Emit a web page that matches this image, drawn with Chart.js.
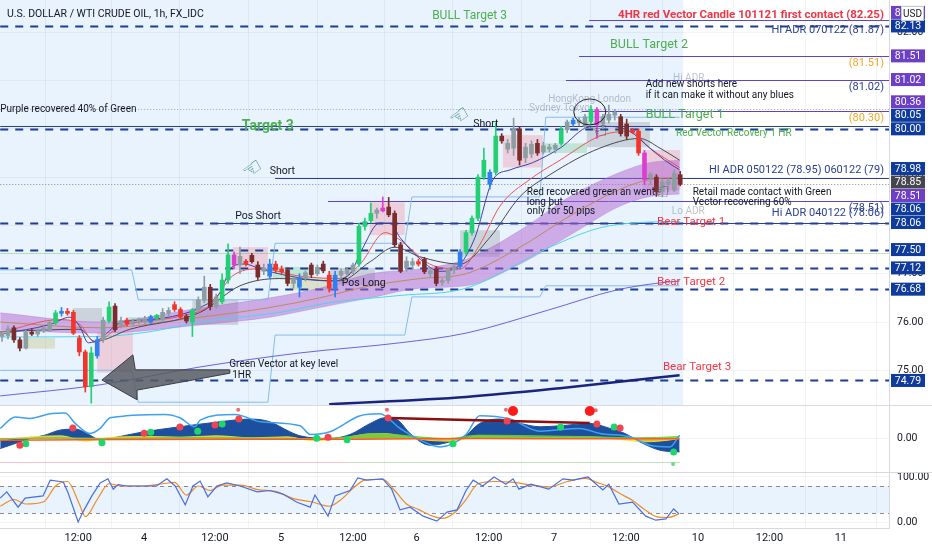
<!DOCTYPE html>
<html>
<head>
<meta charset="utf-8">
<script src="https://cdn.jsdelivr.net/npm/chart.js@4.4.1/dist/chart.umd.min.js"></script>
<style>
  html, body { margin: 0; padding: 0; background: #fff; }
</style>
</head>
<body>
<canvas id="oilChart" width="932" height="550"></canvas>
<script>
// hourly candles, bar 0 = first bar on the left (Jan 3)
const opens = [75.70,75.72,75.88,75.63,75.46,75.79,75.75,75.82,75.84,75.98,
  76.18,76.22,76.20,75.67,75.38,74.66,75.30,75.63,76.02,76.33,
  75.92,76.04,75.96,76.02,76.00,76.00,76.08,76.05,76.18,76.36,
  76.26,76.12,76.00,76.25,76.45,76.72,76.32,76.42,76.87,77.39,
  77.18,77.26,77.38,77.18,77.05,76.95,77.20,77.10,77.08,76.80,
  76.72,76.90,77.18,77.00,77.20,76.97,76.70,76.97,77.00,77.05,
  77.20,77.98,78.10,78.25,78.36,78.38,78.25,77.60,77.12,77.18,
  77.25,77.30,77.00,77.10,76.82,76.86,77.08,77.15,77.45,77.85,
  78.15,79.00,78.85,79.10,79.85,79.58,79.60,80.00,79.40,79.48,
  79.70,79.52,79.58,79.58,79.70,79.98,80.10,80.12,80.05,80.15,
  80.40,80.10,80.18,80.28,80.25,80.10,79.98,79.95,79.50,78.98,
  79.00,78.70,78.85,78.73,79.05];
const highs = [75.80,75.92,75.92,75.68,75.83,75.86,75.86,75.92,76.02,76.24,
  76.30,76.28,76.24,75.72,75.42,75.48,75.70,76.10,76.42,76.38,
  76.10,76.08,76.06,76.08,76.12,76.14,76.16,76.28,76.30,76.42,
  76.30,76.16,76.28,76.52,76.95,76.78,76.58,77.00,77.62,77.45,
  77.55,77.30,77.42,77.25,77.20,77.30,77.26,77.16,77.12,76.92,
  77.00,77.06,77.22,77.18,77.26,77.05,77.05,77.10,77.12,77.22,
  78.05,78.15,78.46,78.36,78.59,78.58,78.30,77.65,77.35,77.32,
  77.30,77.34,77.12,77.15,76.90,77.12,77.20,77.50,77.90,78.20,
  79.05,79.60,79.15,80.12,79.90,79.78,80.22,80.05,79.70,79.75,
  79.78,79.72,79.68,79.70,80.05,80.18,80.22,80.24,80.30,80.48,
  80.44,80.30,80.49,80.40,80.30,80.20,80.00,80.00,79.55,79.10,
  79.05,78.95,78.98,79.15,79.12];
const lows = [75.60,75.65,75.58,75.40,75.44,75.72,75.70,75.78,75.80,75.95,
  76.12,76.14,75.74,75.30,74.55,74.32,75.25,75.58,75.98,75.80,
  75.88,75.92,75.92,75.96,75.96,75.97,76.04,76.00,76.12,76.22,
  76.06,75.98,75.70,76.20,76.40,76.25,76.28,76.38,76.80,77.10,
  77.00,77.16,77.22,76.88,76.98,76.90,77.02,77.00,76.75,76.70,
  76.52,76.85,76.92,76.96,77.02,76.62,76.52,76.90,76.96,77.00,
  77.15,77.90,78.05,78.15,78.28,78.18,77.55,77.02,77.05,77.10,
  77.16,77.00,76.92,76.75,76.76,76.80,77.00,77.10,77.40,77.80,
  78.10,78.95,78.75,79.05,79.70,79.50,79.45,79.25,79.30,79.40,
  79.45,79.48,79.52,79.50,79.66,79.92,80.05,80.06,80.00,80.10,
  79.80,80.00,80.12,80.18,79.85,79.78,79.90,79.45,78.85,78.85,
  78.60,78.60,78.70,78.70,78.82];
const closes = [75.77,75.86,75.63,75.46,75.79,75.75,75.82,75.88,75.99,76.19,
  76.22,76.18,75.77,75.38,74.66,75.36,75.63,76.04,76.31,75.84,
  76.03,75.96,76.02,76.05,76.06,76.11,76.14,76.20,76.24,76.26,
  76.10,76.02,76.25,76.46,76.72,76.32,76.52,76.87,77.39,77.18,
  77.36,77.20,77.25,76.93,77.12,77.20,77.08,77.04,76.80,76.87,
  76.92,77.02,76.98,77.12,77.06,76.70,76.97,77.05,77.08,77.18,
  77.98,78.08,78.25,78.32,78.30,78.22,77.60,77.05,77.26,77.25,
  77.20,77.04,77.06,76.80,76.86,77.08,77.15,77.45,77.85,78.15,
  79.00,79.35,79.10,79.85,79.75,79.70,80.00,79.35,79.62,79.68,
  79.50,79.65,79.62,79.66,79.98,80.14,80.18,80.18,80.25,80.40,
  80.08,80.25,80.30,80.34,79.90,79.85,79.93,79.50,78.95,79.06,
  78.70,78.90,78.92,79.08,78.85];
// volume class of each candle: 0 normal, 1 above average, 2 climax (vector)
const vectorClass = [0,0,0,0,0,0,0,0,0,2, 1,2,2,2,2,2,1,0,2,0, 0,2,0,0,0,1,2,0,0,2,
  2,0,2,0,0,0,0,2,2,1, 0,2,0,0,0,1,2,2,0,0, 1,0,0,0,0,2,1,0,0,0,
  2,2,2,0,1,0,0,0,0,0, 2,0,0,0,0,0,0,1,2,2, 2,2,1,2,0,0,0,0,0,0,
  0,0,0,0,2,0,1,0,0,2, 1,0,0,0,0,0,2,2,1,0, 0,0,0,0,0];

// time axis
const tickPos = [12.8, 23.9, 35.8, 46.9, 59, 69.7, 81.8, 92.8, 104.9, 117, 129, 141];
const tickText = ['12:00','4','12:00','5','12:00','6','12:00','7','12:00','10','12:00','11'];
const priceTicks = [75, 76, 77, 78, 79, 80, 81, 82];

// moving averages as [bar, price]
const emaFast = [[-0.3,75.75],[8.1,75.95],[11.4,76.1],[13.1,75.9],[14.5,75.57],[16.5,75.65],[19.8,75.98],[24.9,76.05],[29.9,76.15],[33.3,76.3],[36.6,76.6],[38.7,77.15],[40.8,77.2],[43.4,77.1],[48.4,76.95],[55.1,76.85],[58.5,77.0],[60.5,77.5],[63.5,78.05],[65.2,78.05],[66.9,77.75],[70.3,77.3],[73.6,77.05],[77,77.2],[79.5,77.75],[82.5,78.94],[85.4,79.15],[89.2,79.3],[93.8,79.6],[98.8,80.04],[102.2,80.05],[105.5,79.95],[108.9,79.6],[111.4,79.35],[113.9,79.15]];
const emaMid = [[-0.3,75.78],[9.7,76.05],[13.1,75.95],[15.6,75.58],[19.8,75.9],[29.9,76.12],[35,76.35],[38.7,76.95],[43.4,77.1],[50.1,76.95],[56.8,76.9],[60.2,77.2],[64.4,77.85],[66.9,77.7],[71.9,77.2],[77,77.1],[80.3,77.6],[83.7,78.4],[88.7,78.95],[93.8,79.35],[100.5,79.85],[105.5,79.95],[108.9,79.6],[113.9,79.2]];
const emaSlow = [[-0.3,75.8],[13.1,75.85],[15.6,75.6],[21.5,75.85],[33.3,76.2],[40,76.75],[46.7,76.9],[56.8,76.85],[61.9,77.25],[66,77.55],[70.3,77.35],[77,77.2],[82,77.75],[87.1,78.6],[92.1,79.05],[100.5,79.6],[107.2,79.8],[110.6,79.6],[113.9,79.35]];
const cloudBars = [-0.3, 16.5, 33.3, 45, 53.4, 61.9, 70.3, 78, 87.1, 95.5, 103.9, 108.9, 113.9];
const cloudTop = [76.19, 76.0, 76.29, 76.5, 76.7, 77.0, 77.1, 77.3, 77.9, 78.6, 79.1, 79.3, 79.35];
const cloudBottom = [75.83, 75.77, 75.94, 76.1, 76.3, 76.5, 76.7, 76.75, 77.2, 77.8, 78.4, 78.6, 78.65];
const cloudMid = [76.0, 75.88, 76.1, 76.3, 76.5, 76.75, 76.9, 77.0, 77.55, 78.2, 78.75, 78.95, 79.0];
const ema200 = [[-0.3,75.69],[16.5,75.7],[24.9,75.8],[33.3,76.0],[46.7,76.2],[55.1,76.4],[66.9,76.55],[78,76.7],[92.1,77.55],[100.5,77.95],[107.2,78.06],[113.9,78.08]];
const ema800 = [[-0.3,74.47],[16.5,74.7],[33.3,75.07],[50.1,75.36],[66.9,75.57],[78,75.77],[91.9,76.25],[103.2,76.66],[109.9,76.8],[113.9,76.85]];
const emaLong = [[55,74.3],[78,74.45],[93.8,74.63],[113.9,74.9]];
const adrHigh = [[-0.3,77.08],[21.8,77.08],[22.9,76.46],[44.7,76.46],[45.9,77.63],[67.7,77.63],[68.9,78.59],[90.4,78.59],[91.4,80.24],[113.9,80.24]];
const adrLow = [[-0.3,75.0],[21.8,75.0],[22.9,74.34],[44.7,74.34],[45.9,75.73],[67.7,75.73],[68.9,76.52],[90.4,76.52],[91.4,76.75],[113.9,76.75]];

// drawn levels
const dashedLevels = [82.13, 80.00, 78.06, 77.50, 77.12, 76.68, 74.79];
const navyLevels = [80.05, 78.98, 78.06];
const navyLevelFrom = [-0.3, 45.9, 35];
const purpleLevels = [81.51, 81.02, 80.36, 78.51];
const purpleLevelFrom = [97, 94.8, 97.5, 54.8];
const contactLevel = 82.25, contactFrom = 98.7;
const sessionHigh = 80.42;
const greenZoneLine = 77.43;

// vector candle zones: [fromBar, toBar, low, high, kind]
const zones = [[4.2,8.9,75.45,75.67,'mix'],[11.9,16.8,76.0,76.29,'flat'],[16,22,74.95,75.79,'bear'],
  [21.2,27.4,75.98,76.1,'bull'],[32,39.7,75.94,76.46,'flat'],[38.8,44.7,77.08,77.55,'bear'],
  [45.5,51.8,76.91,77.14,'bull'],[48.4,55.1,76.66,76.91,'mix'],[55.1,62.7,76.77,77.12,'flat'],
  [61.8,67.7,77.8,78.48,'bear'],[77,83.7,77.35,77.9,'flat'],[84.2,90.9,79.2,79.87,'bear'],
  [90.9,98.3,79.5,79.7,'bull'],[98.3,108.9,79.62,80.14,'flat'],[107.7,114,78.73,79.56,'bear']];

// money-flow / wave pane
const oscFlow = [[-0.3,-30],[2.2,-15],[4.7,0],[7.2,10],[9.7,25],[12.3,28],[14.8,10],[16.5,-5],[18.2,0],[23.2,18],[29.9,35],[36.6,50],[41.7,58],[45,50],[48.4,20],[50.1,8],[55.1,0],[58.5,12],[61.9,45],[64.4,62],[66.5,55],[68.6,15],[71.9,-20],[75.3,-10],[78,10],[80.3,45],[83.7,58],[87.1,45],[90.4,35],[93.8,38],[98.8,45],[102.2,30],[104.7,15],[107.2,-10],[110.6,-35],[113.9,-40]];
const oscWave = [[-0.3,30],[2.2,64],[4.7,60],[8.1,74],[10.6,76],[12.3,45],[14.8,15],[16.5,30],[18.2,62],[27.4,72],[29.9,62],[32.4,35],[33.3,55],[39.2,72],[43.4,50],[50.1,38],[51.8,12],[55.1,20],[60.2,68],[63.5,74],[66.9,30],[70.3,-5],[73.6,-25],[78,12],[80.3,68],[85.4,58],[90.4,22],[97.1,30],[100.5,15],[105.5,5],[108.9,-20],[112.3,-25],[113.9,10]];
const oscYellow = [[-0.3,-5],[5,5],[10,8],[14,-8],[18,3],[25,6],[30,4],[36,8],[42,2],[48,5],[52,-6],[56,-3],[60,10],[64,15],[68,5],[72,-6],[76,-8],[80,8],[86,5],[92,3],[98,5],[104,-3],[108,-10],[112,-5],[113.9,0]];
const oscGreen = [[-0.3,0],[10,2],[20,0],[30,3],[40,2],[50,0],[58.5,5],[62,15],[66,12],[70,5],[75,0],[80,10],[90,8],[100,5],[106,2],[110,3],[113.9,6]];
const oscOrange = [[-0.3,-5],[20,-3],[40,-2],[60,-2],[80,0],[100,-1],[113.9,-1]];
const oscTrend = [[65.2,61],[98.8,46]];
const redDots = [[3,-20],[11.9,31],[23.9,16],[29.9,34],[35.8,40],[39.8,58],[54.8,4],[64.9,61],[84.9,52],[100,43],[103.9,31]];
const bigRedDots = [[85.9,82],[98.8,82]];
const smallRedDots = [[39.7,86],[64.7,86],[84.7,86],[99.8,84]];
const greenDots = [[4,-16],[16.8,-13],[25,19],[32.9,22],[37,43],[52.9,1],[58,-4],[75.8,-16],[93.9,34],[102.9,34],[112.9,-40]];
const smallGreenDots = [[112.8,-76]];
const oscFloor = -70, oscFloorSplit = 58.5;

// stochastic RSI pane
const stochK = [[-0.3,53],[0.8,67],[2.7,33],[3.9,53],[6.9,58],[8.1,93],[10.3,89],[11.1,65],[12.8,0],[13.6,22],[15.1,58],[16.5,87],[17.8,96],[18.7,73],[19.5,83],[21,80],[23.7,80],[26,80],[27.7,96],[29.1,80],[30.8,38],[32.1,80],[33.3,91],[34.6,56],[36.1,80],[37.8,87],[40,80],[42.9,67],[45,70],[47.2,62],[49.6,44],[51.8,33],[52.6,60],[54.8,13],[56,58],[58.5,70],[59.8,98],[61.3,93],[64,96],[65.5,73],[66.9,27],[68.6,33],[70.8,13],[73.1,2],[74.8,22],[76.5,27],[78,70],[79.2,93],[80.8,80],[82.7,100],[84.7,84],[85.9,96],[86.9,73],[88.9,84],[91.9,73],[94.3,96],[96,93],[98.5,100],[101,71],[102,84],[103.7,40],[106,44],[108.2,13],[109.9,4],[111.6,7],[112.9,29],[113.8,18]];
const stochD = [[-0.3,35],[2,50],[4,40],[7,45],[9,80],[11,90],[13,40],[14,12],[16,50],[18,85],[20,80],[24,80],[27,85],[29,88],[31,60],[33,80],[35,70],[37,82],[40,82],[43,72],[46,68],[49,52],[52,45],[55,35],[57,50],[59,75],[61,93],[64,95],[66,70],[68,40],[70,28],[72,15],[74,8],[76,20],[78,50],[80,85],[83,90],[86,88],[89,82],[92,78],[95,90],[98,97],[100,88],[102,78],[104,62],[106,48],[108,28],[110,12],[112,10],[113.8,18]];
const stochBands = [80, 20];

const FONT = 'Roboto, "Noto Sans", sans-serif';
const GREEN_TXT = '#4caf50', RED_TXT = '#f23645', NAVY_TXT = '#2b3f8f', ORANGE_TXT = '#f5a623', DARK = '#131722', FAINT = 'rgba(110,120,140,0.45)';
const NAVY_TAG = '#0f3b9c', PURPLE_TAG = '#6c3fc6', GREY_TAG = '#45474f';
const lastBar = closes.length - 1;

// free text on the chart: [text, bar (null = right edge), price, color, size, weight]
const notes = [
  ['BULL Target 3', 72.3, 82.34, GREEN_TXT, 12, 400],
  ['4HR red Vector Candle 101121 first contact (82.25)', null, 82.36, RED_TXT, 11.5, 700],
  ['HI ADR 070122 (81.87)', null, 82.05, NAVY_TXT, 11, 400],
  ['BULL Target 2', 102.2, 81.73, GREEN_TXT, 12.5, 400],
  ['(81.51)', null, 81.36, ORANGE_TXT, 11, 400],
  ['(81.02)', null, 80.87, NAVY_TXT, 11, 400],
  ['Add new shorts here', 108.2, 80.91, DARK, 10, 400],
  ['if it can make it without any blues', 108.2, 80.68, DARK, 10, 400],
  ['BULL Target 1', 108.2, 80.29, GREEN_TXT, 12.5, 400],
  ['(80.30)', null, 80.22, ORANGE_TXT, 11, 400],
  ['Red Vector Recovery 1 HR', 113.3, 79.91, GREEN_TXT, 10, 400],
  ['Purple recovered 40% of Green', -0.3, 80.39, DARK, 10, 400],
  ['Target 3', 40.3, 80.04, GREEN_TXT, 14, 700],
  ['Short', 79.2, 80.10, DARK, 10.5, 400],
  ['Short', 45, 79.11, DARK, 10.5, 400],
  ['HI ADR 050122 (78.95) 060122 (79)', null, 79.15, NAVY_TXT, 11, 400],
  ['Retail made contact with Green', 116.1, 78.69, DARK, 10, 400],
  ['Vector recovering 60%', 116.1, 78.48, DARK, 10, 400],
  ['(78.51)', null, 78.36, NAVY_TXT, 11, 400],
  ['Hi ADR 040122 (78.06)', null, 78.26, NAVY_TXT, 11, 400],
  ['Red recovered green an went', 88.2, 78.69, DARK, 10, 400],
  ['long but', 88.2, 78.48, DARK, 10, 400],
  ['only for 50 pips', 88.2, 78.28, DARK, 10, 400],
  ['Bear Target 1', 110.1, 78.07, RED_TXT, 11.5, 400],
  ['Pos Short', 39.2, 78.19, DARK, 10.5, 400],
  ['Pos Long', 57.1, 76.81, DARK, 10.5, 400],
  ['Bear Target 2', 110.1, 76.83, RED_TXT, 11.5, 400],
  ['Bear Target 3', 111.1, 75.07, RED_TXT, 11.5, 400],
  ['Green Vector at key level', 38.2, 75.13, DARK, 10, 400],
  ['1HR', 38.7, 74.90, DARK, 10, 400],
  ['HongKong London', 91.8, 80.60, FAINT, 10, 400],
  ['Sydney Tokyo', 88.6, 80.43, FAINT, 10, 400],
  ['Hi ADR', 112.8, 81.05, FAINT, 10, 400],
  ['Lo ADR', 112.6, 78.28, FAINT, 10, 400]
];
const hands = [[77, 80.24, '#2e7d6f', -0.6], [42.2, 79.15, '#2e7d6f', -0.6], [100.2, 79.93, '#50535e', 0], [110.6, 78.67, '#50535e', 0]];
const arrowShape = [[16.8,74.80],[22.0,75.32],[22.4,75.01],[38.3,75.01],[38.3,74.94],[22.7,74.59],[22.7,74.39]];

function candleColor(i) {
  const up = closes[i] >= opens[i];
  if (vectorClass[i] === 2) return up ? '#22cf72' : '#f2352c';
  if (vectorClass[i] === 1) return up ? '#2f7fef' : '#db3fcf';
  return up ? '#8d9ea3' : '#7b2d2d';
}
const pts = arr => arr.map(([x, y]) => ({x, y}));
const cloudPts = vals => vals.map((v, i) => ({x: cloudBars[i], y: v}));
const barColors = opens.map((_, i) => candleColor(i));

function line(data, color, width, axis, order, extra) {
  return Object.assign({type: 'line', data: pts(data), borderColor: color, borderWidth: width,
    pointRadius: 0, yAxisID: axis, order, cubicInterpolationMode: 'monotone', fill: false}, extra || {});
}
function dots(data, color, r) {
  return {type: 'line', data: pts(data), showLine: false, pointRadius: r, pointBackgroundColor: color,
    pointBorderWidth: 0, yAxisID: 'osc', order: 0};
}

const datasets = [
  {type: 'bar', data: opens.map((o, i) => ({x: i, y: [o, closes[i]]})), backgroundColor: barColors,
    barThickness: 4, grouped: false, yAxisID: 'y', order: 0},
  {type: 'bar', data: opens.map((_, i) => ({x: i, y: [lows[i], highs[i]]})), backgroundColor: barColors,
    barThickness: 1, grouped: false, yAxisID: 'y', order: 1},
  line(emaFast, '#3f3fa8', 1, 'y', 2),
  line(emaMid, '#ef5350', 1, 'y', 2),
  line(emaSlow, '#4a4a50', 1, 'y', 2),
  line(ema200, '#4dd6ea', 1, 'y', 3),
  line(ema800, '#6f63d8', 1, 'y', 3),
  line(emaLong, '#1a237e', 2.5, 'y', 3),
  line(adrHigh, '#86bdea', 1, 'y', 4, {cubicInterpolationMode: 'default'}),
  line(adrLow, '#86bdea', 1, 'y', 4, {cubicInterpolationMode: 'default'}),
  {type: 'line', data: cloudPts(cloudMid), borderColor: '#c08a5a', borderWidth: 1, pointRadius: 0,
    yAxisID: 'y', order: 5, cubicInterpolationMode: 'monotone', fill: false},
  {type: 'line', data: cloudPts(cloudTop), borderColor: 'rgba(170,100,200,0.3)', borderWidth: 1, pointRadius: 0,
    yAxisID: 'y', order: 6, cubicInterpolationMode: 'monotone', fill: '+1', backgroundColor: 'rgba(176,100,208,0.5)'},
  {type: 'line', data: cloudPts(cloudBottom), borderColor: 'rgba(170,100,200,0.3)', borderWidth: 1, pointRadius: 0,
    yAxisID: 'y', order: 6, cubicInterpolationMode: 'monotone', fill: false},
  // wave pane
  dots(redDots, '#f0444f', 3.5),
  dots(bigRedDots, '#ff1a1a', 5),
  dots(smallRedDots, '#f06a70', 2),
  dots(greenDots, '#1ed76a', 3.5),
  dots(smallGreenDots, '#66e07a', 2),
  line(oscTrend, '#8e0e0e', 2.5, 'osc', 1),
  line(oscOrange, '#ff5a1f', 1.5, 'osc', 2),
  line(oscWave, '#3aa2f0', 1.5, 'osc', 3),
  line(oscGreen, 'rgba(110,200,60,0.9)', 1, 'osc', 4, {fill: 'origin', backgroundColor: 'rgba(110,200,60,0.8)'}),
  line(oscYellow, 'rgba(245,225,50,0.9)', 1, 'osc', 5, {fill: 'origin', backgroundColor: 'rgba(245,225,50,0.8)'}),
  line(oscFlow, '#1d4f9f', 1, 'osc', 6, {fill: 'origin', backgroundColor: '#1d4f9f'}),
  // stochastic pane
  line(stochK, '#4a6ee0', 1.2, 'stoch', 0, {cubicInterpolationMode: 'default'}),
  line(stochD, '#f08a24', 1.2, 'stoch', 1)
];

const paneArt = {
  id: 'paneArt',
  beforeDraw(chart) {
    const {ctx, chartArea: a, scales: {x, y, stoch}} = chart;
    ctx.save();
    ctx.fillStyle = '#ffffff';
    ctx.fillRect(0, 0, chart.width, chart.height);
    ctx.fillStyle = '#e8f3fd';
    ctx.fillRect(a.left, y.top, x.getPixelForValue(lastBar + 0.5) - a.left, y.bottom - y.top);
    const t = stoch.getPixelForValue(stochBands[0]), b = stoch.getPixelForValue(stochBands[1]);
    ctx.fillRect(a.left, t, a.width, b - t);
    ctx.restore();
  },
  beforeDatasetsDraw(chart) {
    const {ctx, chartArea: a, scales: {x, y, osc, stoch}} = chart;
    ctx.save();
    ctx.beginPath();
    ctx.rect(a.left, y.top, a.width, y.bottom - y.top);
    ctx.clip();
    const zoneFill = {bear: 'rgba(244,140,160,0.35)', bull: 'rgba(110,205,140,0.35)',
      flat: 'rgba(150,152,160,0.35)', mix: 'rgba(195,195,130,0.4)'};
    zones.forEach(([f, t, lo, hi, kind]) => {
      const x0 = x.getPixelForValue(f), x1 = x.getPixelForValue(t);
      const y0 = y.getPixelForValue(hi), y1 = y.getPixelForValue(lo);
      ctx.fillStyle = zoneFill[kind];
      ctx.fillRect(x0, y0, x1 - x0, y1 - y0);
    });
    const hLine = (v, from, color, width, dash) => {
      const py = Math.round(y.getPixelForValue(v)) + 0.5;
      ctx.strokeStyle = color; ctx.lineWidth = width; ctx.setLineDash(dash || []);
      ctx.beginPath(); ctx.moveTo(x.getPixelForValue(from), py); ctx.lineTo(a.right, py); ctx.stroke();
    };
    hLine(greenZoneLine, -0.3, 'rgba(76,175,80,0.35)', 1);
    hLine(sessionHigh, -0.3, '#a0a4ad', 1, [1, 2]);
    hLine(closes[lastBar], -0.3, '#8a8d96', 1, [1, 2]);
    dashedLevels.forEach(v => hLine(v, -0.3, '#1c3d94', 2, [8, 7]));
    navyLevels.forEach((v, i) => hLine(v, navyLevelFrom[i], '#2a3f94', 1));
    purpleLevels.forEach((v, i) => hLine(v, purpleLevelFrom[i], '#5b45c8', 1));
    hLine(contactLevel, contactFrom, '#5b45c8', 1);
    ctx.restore();

    ctx.save();
    ctx.setLineDash([]);
    const fy = Math.round(osc.getPixelForValue(oscFloor)) + 0.5;
    const fx = x.getPixelForValue(oscFloorSplit);
    ctx.lineWidth = 1;
    ctx.strokeStyle = 'rgba(242,54,69,0.3)';
    ctx.beginPath(); ctx.moveTo(a.left, fy); ctx.lineTo(fx, fy); ctx.stroke();
    ctx.strokeStyle = 'rgba(76,175,80,0.35)';
    ctx.beginPath(); ctx.moveTo(fx, fy); ctx.lineTo(x.getPixelForValue(lastBar), fy); ctx.stroke();
    ctx.strokeStyle = '#868993';
    ctx.setLineDash([4, 4]);
    stochBands.forEach(v => {
      const py = Math.round(stoch.getPixelForValue(v)) + 0.5;
      ctx.beginPath(); ctx.moveTo(a.left, py); ctx.lineTo(a.right, py); ctx.stroke();
    });
    ctx.restore();
  },
  afterDatasetsDraw(chart) {
    const {ctx, chartArea: a, scales: {x, y}} = chart;
    ctx.save();
    ctx.beginPath();
    ctx.rect(a.left, y.top, a.width, y.bottom - y.top);
    ctx.clip();
    // big arrow
    ctx.beginPath();
    arrowShape.forEach(([b, p], i) => {
      const px = x.getPixelForValue(b), py = y.getPixelForValue(p);
      if (i === 0) ctx.moveTo(px, py); else ctx.lineTo(px, py);
    });
    ctx.closePath();
    ctx.fillStyle = 'rgba(88,92,100,0.85)';
    ctx.fill();
    ctx.strokeStyle = '#3a3d44'; ctx.lineWidth = 1; ctx.stroke();
    // circle round the top
    ctx.beginPath();
    ctx.ellipse(x.getPixelForValue(98.8), y.getPixelForValue(80.35), 16, 13, 0, 0, Math.PI * 2);
    ctx.strokeStyle = '#202020'; ctx.lineWidth = 1; ctx.stroke();
    // hand markers
    hands.forEach(([b, p, color, rot]) => {
      ctx.save();
      ctx.translate(x.getPixelForValue(b), y.getPixelForValue(p));
      ctx.rotate(rot);
      ctx.fillStyle = color;
      ctx.font = '22px "DejaVu Sans"';
      ctx.textAlign = 'center'; ctx.textBaseline = 'middle';
      ctx.fillText('\u261C', 0, 0);
      ctx.restore();
    });
    // notes
    ctx.textBaseline = 'middle';
    notes.forEach(([text, bar, price, color, size, weight]) => {
      ctx.font = weight + ' ' + size + 'px ' + FONT;
      ctx.fillStyle = color;
      ctx.textAlign = bar === null ? 'right' : 'left';
      const px = bar === null ? a.right - 5 : x.getPixelForValue(bar);
      ctx.fillText(text, px, y.getPixelForValue(price));
    });
    ctx.restore();
  },
  afterDraw(chart) {
    const {ctx, chartArea: a, scales: {y, osc}} = chart;
    ctx.save();
    ctx.strokeStyle = '#d6d9e0'; ctx.lineWidth = 1;
    [y.bottom, osc.bottom].forEach(v => {
      const py = Math.round(v) + 0.5;
      ctx.beginPath(); ctx.moveTo(0, py); ctx.lineTo(chart.width, py); ctx.stroke();
    });
    // price tags on the right axis, stacked upward from the lowest so they never overlap
    const tags = [];
    dashedLevels.forEach(v => tags.push({v, c: NAVY_TAG}));
    navyLevels.forEach(v => tags.push({v, c: NAVY_TAG}));
    purpleLevels.forEach(v => tags.push({v, c: PURPLE_TAG}));
    tags.push({v: contactLevel, c: PURPLE_TAG});
    tags.push({v: closes[lastBar], c: GREY_TAG});
    tags.sort((p, q) => p.v - q.v);
    const gap = 13.5;
    const ys = [];
    tags.forEach((t, i) => {
      const py = y.getPixelForValue(t.v);
      ys.push(i === 0 ? py : Math.min(py, ys[i - 1] - gap));
    });
    ctx.font = '10.5px ' + FONT;
    ctx.textAlign = 'center'; ctx.textBaseline = 'middle';
    tags.forEach((t, i) => {
      ctx.fillStyle = t.c;
      ctx.fillRect(a.right + 2, ys[i] - 6.5, 34, 13);
      ctx.fillStyle = '#ffffff';
      ctx.fillText(t.v.toFixed(2), a.right + 19, ys[i] + 0.5);
    });
    // currency box
    ctx.fillStyle = '#ffffff';
    ctx.fillRect(901.5, 6.5, 22, 14);
    ctx.strokeStyle = '#c9ccd4';
    ctx.strokeRect(901.5, 6.5, 22, 14);
    ctx.fillStyle = DARK;
    ctx.font = '10px ' + FONT;
    ctx.fillText('USD', 912.5, 14);
    // symbol title
    ctx.textAlign = 'left';
    ctx.font = '10.5px ' + FONT;
    ctx.fillText('U.S. DOLLAR / WTI CRUDE OIL, 1h, FX_IDC', 7, 14);
    ctx.restore();
  }
};

const axisFont = {family: FONT, size: 10.5};
const yAxis = (weight, stackWeight, min, max, ticks) => ({
  type: 'linear', position: 'right', stack: 'panes', stackWeight, weight, min, max,
  afterBuildTicks: s => { s.ticks = ticks.map(value => ({value})); },
  afterFit: s => { s.width = 43; s.paddingTop = 0; s.paddingBottom = 0; },
  ticks: {font: axisFont, color: DARK, padding: 8, callback: v => v.toFixed(2)},
  grid: {color: 'rgba(42,46,57,0.05)', drawTicks: false},
  border: {color: '#d6d9e0'}
});

new Chart(document.getElementById('oilChart'), {
  type: 'line',
  data: {datasets},
  options: {
    responsive: false,
    animation: false,
    layout: {padding: 0, autoPadding: false},
    plugins: {legend: {display: false}, tooltip: {enabled: false}},
    scales: {
      x: {
        type: 'linear', min: -0.34, max: 149.1, offset: false,
        afterBuildTicks: s => { s.ticks = tickPos.map(value => ({value})); },
        afterFit: s => { s.height = 22; s.paddingLeft = 0; s.paddingRight = 0; },
        ticks: {font: {family: FONT, size: 11}, color: DARK, maxRotation: 0, autoSkip: false, padding: 4,
          callback: (v, i) => tickText[i]},
        grid: {color: 'rgba(42,46,57,0.06)', drawTicks: false},
        border: {color: '#d6d9e0'}
      },
      y: yAxis(1, 405, 74.282, 82.667, priceTicks),
      osc: yAxis(2, 67, -100, 100, [0]),
      stoch: yAxis(3, 56, -13.3, 111.1, [0, 100])
    }
  },
  plugins: [paneArt]
});
</script>
</body>
</html>
